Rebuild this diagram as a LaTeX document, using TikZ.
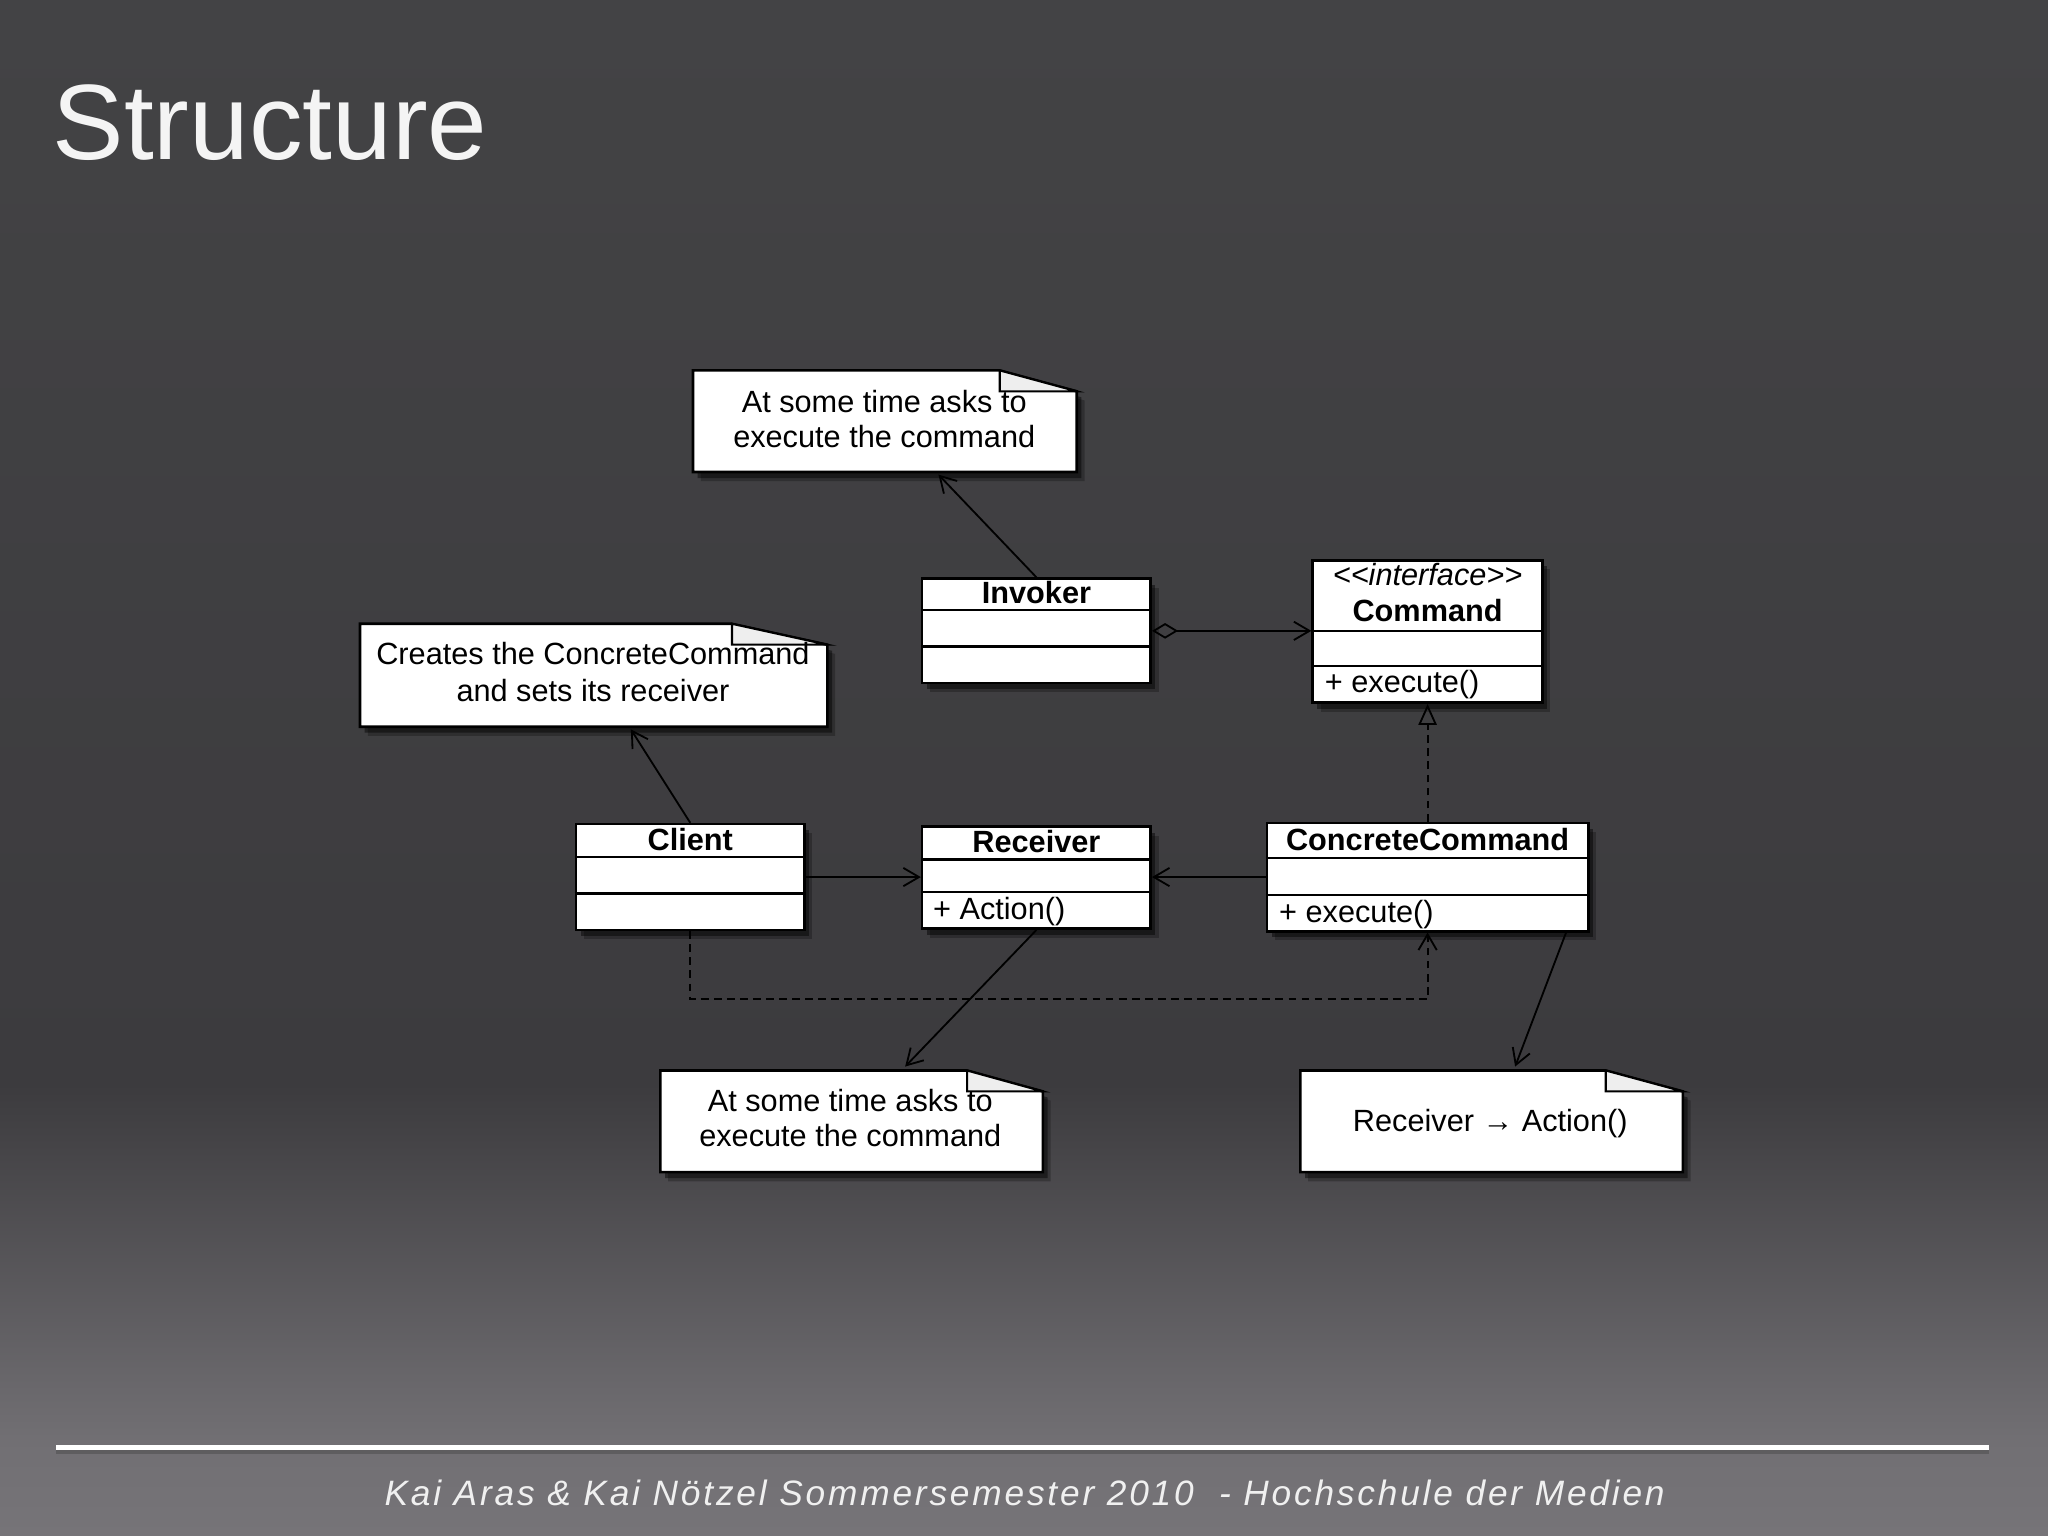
\documentclass[tikz,border=0pt]{standalone}
\usepackage{fontspec}
\setmainfont{Liberation Sans}
\newfontfamily\lsans{Liberation Sans}
\usetikzlibrary{arrows.meta,shadows,calc,fit}
\definecolor{bgtop}{RGB}{67,67,69}
\definecolor{bgmid}{RGB}{60,59,62}
\definecolor{bglow}{RGB}{113,111,115}
\definecolor{bgbot}{RGB}{118,116,120}
\definecolor{flap}{RGB}{238,238,238}
\tikzset{
  boxshadow/.style={general shadow={shadow xshift=3pt, shadow yshift=-3.5pt, opacity=0.25, fill=black},
                    general shadow={shadow xshift=1.8pt, shadow yshift=-2.3pt, opacity=0.45, fill=black}},
  umlbox/.style={draw=black, line width=1pt, fill=white, inner sep=0pt, boxshadow},
  notebg/.style={inner sep=0pt, draw=none},
  notepath/.style={draw=black, line width=1pt, fill=white, boxshadow},
  flapline/.style={draw=black, line width=0.8pt, fill=flap},
  sepline/.style={line width=0.9pt},
  umltxt/.style={inner sep=0pt, text=black, font=\lsans\fontsize{11.75}{13.5}\selectfont},
  umlname/.style={inner sep=0pt, text=black, font=\lsans\bfseries\fontsize{11.75}{13.5}\selectfont},
  umlital/.style={inner sep=0pt, text=black, font=\lsans\itshape\fontsize{11.75}{13.5}\selectfont},
  assoc/.style={line width=0.7pt, -{Straight Barb[length=6pt,width=7pt]}},
  realize/.style={line width=0.7pt, dash pattern=on 3pt off 2pt, -{Triangle[open,length=8pt,width=7pt]}},
  dep/.style={line width=0.7pt, dash pattern=on 3pt off 2pt, -{Straight Barb[length=6pt,width=7pt]}},
  aggr/.style={line width=0.7pt, {Diamond[open,length=10pt,width=6pt]}-{Straight Barb[length=6pt,width=7pt]}},
}
\newcommand\mynote[3]{%
  \path[notepath] (#1.north west) -- ($(#1.north east)+(-#2,0)$) -- ($(#1.north east)+(0,#3)$) -- (#1.south east) -- (#1.south west) -- cycle;
  \path[flapline] ($(#1.north east)+(-#2,0)$) -- ($(#1.north east)+(-#2,#3)$) -- ($(#1.north east)+(0,#3)$) -- cycle;
}
\begin{document}
\begin{tikzpicture}[x=0.5pt,y=-0.5pt]
\useasboundingbox (0,0) rectangle (1568,1176);
% background
\shade[top color=bgtop, bottom color=bgmid] (0,0) rectangle (1568,831);
\shade[top color=bgmid, bottom color=bglow] (0,830) rectangle (1568,1101);
\shade[top color=bglow, bottom color=bgbot] (0,1100) rectangle (1568,1176);
% title
\node[inner sep=0pt, anchor=base west, text={rgb,255:red,244;green,244;blue,244}, font=\lsans\fontsize{41}{48}\selectfont] (title) at (40,122) {Structure};
% footer
\coordinate (fl) at (43,1108);
\coordinate (fr) at (1523,1108);
\draw[line width=2.5pt, gray!60!black, opacity=0.5] ($(fl)+(0,3)$) -- ($(fr)+(0,3)$);
\draw[line width=2pt, white] (fl) -- (fr);
\node[inner sep=0pt, anchor=base west, text={rgb,255:red,240;green,240;blue,240}, font={\fontspec{Liberation Sans}[LetterSpace=8]\itshape\fontsize{13.5}{15}\selectfont}] (footer) at (294,1153) {Kai Aras \& Kai Nötzel Sommersemester 2010 \ - Hochschule der Medien};

% notes
\node[notebg, fit={(531,284) (824,361)}] (n1) {};
\mynote{n1}{59}{16}
\node[notebg, fit={(276,478) (633,556)}] (n2) {};
\mynote{n2}{73}{16}
\node[notebg, fit={(506,820) (798,897)}] (n3) {};
\mynote{n3}{58}{16}
\node[notebg, fit={(996,820) (1288,897)}] (n4) {};
\mynote{n4}{59}{16}
\node[umltxt, anchor=base] (n1a) at (677,316) {At some time asks to};
\node[umltxt, anchor=base] (n1b) at (677,343) {execute the command};
\node[umltxt, anchor=base] (n2a) at (454,509) {Creates the ConcreteCommand};
\node[umltxt, anchor=base] (n2b) at (454,537) {and sets its receiver};
\node[umltxt, anchor=base] (n3a) at (651,851) {At some time asks to};
\node[umltxt, anchor=base] (n3b) at (651,878) {execute the command};
\node[umltxt, anchor=base] (n4a) at (1141,866) {Receiver → Action()};

% classes
\node[umlbox, fit={(706,443) (881,523)}] (invoker) {};
\draw[sepline] ($(invoker.north west)+(0,25)$) -- ($(invoker.north east)+(0,25)$);
\draw[sepline] ($(invoker.north west)+(0,53)$) -- ($(invoker.north east)+(0,53)$);
\node[umlname, anchor=base] (invokerN) at (793.5,462) {Invoker};

\node[umlbox, fit={(1005,429) (1181,538)}] (command) {};
\draw[sepline] ($(command.north west)+(0,55)$) -- ($(command.north east)+(0,55)$);
\draw[sepline] ($(command.north west)+(0,82)$) -- ($(command.north east)+(0,82)$);
\node[umlital, anchor=base] (cmdS) at (1093,448) {<\kern0pt<interface>\kern0pt>};
\node[umlname, anchor=base] (cmdN) at (1093,476) {Command};
\node[umltxt, anchor=base west] (cmdO) at (1014,530) {+ execute()};

\node[umlbox, fit={(441,631) (616,712)}] (client) {};
\draw[sepline] ($(client.north west)+(0,26)$) -- ($(client.north east)+(0,26)$);
\draw[sepline] ($(client.north west)+(0,54)$) -- ($(client.north east)+(0,54)$);
\node[umlname, anchor=base] (clientN) at (528.5,651) {Client};

\node[umlbox, fit={(706,633) (881,711)}] (receiver) {};
\draw[sepline] ($(receiver.north west)+(0,26)$) -- ($(receiver.north east)+(0,26)$);
\draw[sepline] ($(receiver.north west)+(0,51)$) -- ($(receiver.north east)+(0,51)$);
\node[umlname, anchor=base] (recvN) at (793.5,653) {Receiver};
\node[umltxt, anchor=base west] (recvO) at (714,704) {+ Action()};

\node[umlbox, fit={(970,630) (1216,713)}] (cc) {};
\draw[sepline] ($(cc.north west)+(0,28)$) -- ($(cc.north east)+(0,28)$);
\draw[sepline] ($(cc.north west)+(0,56)$) -- ($(cc.north east)+(0,56)$);
\node[umlname, anchor=base] (ccN) at (1093,651) {ConcreteCommand};
\node[umltxt, anchor=base west] (ccO) at (979,706) {+ execute()};

% connectors
\draw[assoc] (invoker.north) -- ($(n1.south)+(41,2)$);
\draw[aggr] (invoker.east) -- (invoker.east -| command.west);
\draw[assoc] (client.north) -- ($(n2.south)+(28.5,2)$);
\draw[assoc] (client.east) -- (client.east -| receiver.west);
\draw[assoc] (cc.west) -- (cc.west -| receiver.east);
\draw[realize] (cc.north) -- (command.south);
\draw[assoc] (receiver.south) -- ($(n3.north)+(41,-3)$);
\draw[assoc] ($(cc.south)+(106,0)$) -- ($(n4.north)+(18,-3)$);
\draw[dep] (client.south) -- ++(0,52) -| (cc.south);
\end{tikzpicture}
\end{document}
